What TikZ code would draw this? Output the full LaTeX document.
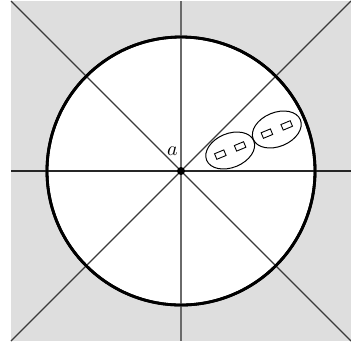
\documentclass[tikz,border=0pt]{standalone}
\usetikzlibrary{shapes.geometric}
\definecolor{bggray}{HTML}{DEDEDE}
\definecolor{linegray}{HTML}{3A3A3A}
\definecolor{vgray}{HTML}{6A6A6A}
\tikzset{
  axisline/.style={draw=linegray, line width=0.6pt},
  vline/.style={draw=vgray, line width=0.7pt},
  hline/.style={draw=black!85, line width=0.6pt},
  bigcircle/.style={draw=black, line width=1.4pt, fill=white},
  cluster/.style={ellipse, draw=black, line width=0.5pt, inner sep=0pt, minimum width=25.5pt, minimum height=17pt, rotate=22.5},
  cell/.style={rectangle, draw=black, line width=0.45pt, inner sep=0pt, minimum width=5pt, minimum height=3pt, rotate=22.5},
  centerdot/.style={circle, fill=black, inner sep=0pt, minimum size=4pt}
}
\begin{document}
\begin{tikzpicture}[x=0.5pt, y=-0.5pt]
\useasboundingbox (0,0) rectangle (351,344);
\fill[bggray] (11,1) rectangle (351,341);
\coordinate (tl) at (11,1);
\coordinate (tr) at (351,1);
\coordinate (bl) at (11,341);
\coordinate (br) at (351,341);
\coordinate (top) at (181,1);
\coordinate (bot) at (181,341);
\coordinate (lft) at (11,171);
\coordinate (rgt) at (351,171);
\coordinate (c) at (181,171);
\path[bigcircle] (c) circle (67pt);
\draw[axisline] (tl) -- (br);
\draw[axisline] (bl) -- (tr);
\draw[vline] (top) -- (bot);
\draw[hline] (lft) -- (rgt);
\draw[black, line width=1.4pt] (c) circle (67pt);
\node[centerdot] (a) at (c) {};
\node[anchor=south east, inner sep=1pt] (alabel) at (180,158) {$a$};
\node[cluster] (e1) at (230.2,150.5) {};
\node[cluster] (e2) at (276.8,129.5) {};
\node[cell] (r1) at ([shift={(-9.9,4.1)}]e1.center) {};
\node[cell] (r2) at ([shift={(9.9,-4.1)}]e1.center) {};
\node[cell] (r3) at ([shift={(-9.9,4.1)}]e2.center) {};
\node[cell] (r4) at ([shift={(9.9,-4.1)}]e2.center) {};
\end{tikzpicture}
\end{document}
